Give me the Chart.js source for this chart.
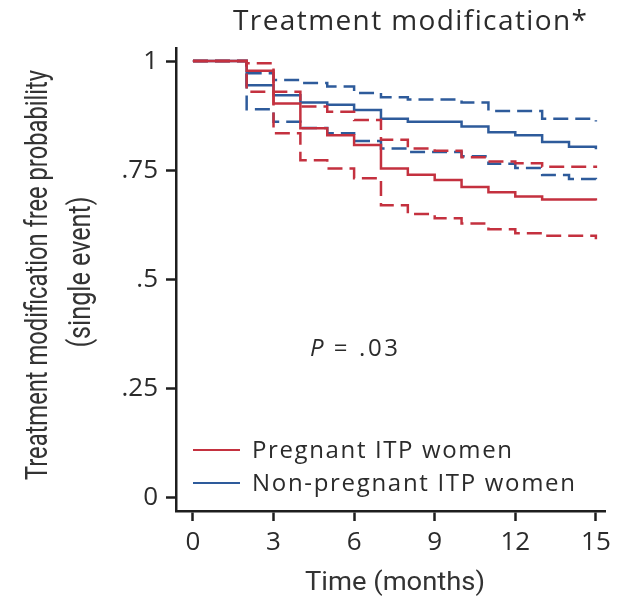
<!DOCTYPE html>
<html>
<head>
<meta charset="utf-8">
<script src="https://cdn.jsdelivr.net/npm/chart.js@4.4.0/dist/chart.umd.min.js"></script>
<style>
  html, body { margin: 0; padding: 0; background: #fff; }
  #wrap { width: 617px; height: 596px; }
</style>
</head>
<body>
<div id="wrap"><canvas id="kmChart" width="617" height="596"></canvas></div>
<script>
// Step times (months) shared by every curve
const months = [0, 2, 3, 4, 5, 6, 7, 8, 9, 10, 11, 12, 13, 14, 15];

// Pregnant ITP women: estimate and 95% CI
const pregnantEst   = [1, 0.978, 0.903, 0.846, 0.830, 0.808, 0.754, 0.740, 0.728, 0.712, 0.700, 0.690, 0.683, 0.683, 0.681];
const pregnantUpper = [1, 0.995, 0.930, 0.896, 0.884, 0.865, 0.820, 0.800, 0.795, 0.780, 0.770, 0.766, 0.758, 0.758, 0.755];
const pregnantLower = [1, 0.930, 0.835, 0.773, 0.754, 0.732, 0.670, 0.650, 0.640, 0.628, 0.615, 0.606, 0.600, 0.600, 0.592];

// Non-pregnant ITP women: estimate and 95% CI
const nonPregEst   = [1, 0.945, 0.922, 0.905, 0.900, 0.888, 0.868, 0.861, 0.861, 0.850, 0.837, 0.830, 0.815, 0.804, 0.798];
const nonPregUpper = [1, 0.972, 0.957, 0.950, 0.942, 0.927, 0.917, 0.912, 0.912, 0.905, 0.886, 0.886, 0.868, 0.868, 0.862];
const nonPregLower = [1, 0.890, 0.861, 0.847, 0.835, 0.817, 0.800, 0.792, 0.792, 0.782, 0.765, 0.755, 0.739, 0.730, 0.720];

const xTicks = [0, 3, 6, 9, 12, 15];
const yTicks = [0, 0.25, 0.5, 0.75, 1];
const yTickLabels = ["0", ".25", ".5", ".75", "1"];

const RED = "#c4313f";
const BLUE = "#2e5b9b";
const INK = "#2b2b2b";
const FONT = "'Open Sans'";

function toPoints(values) {
  return months.map((m, i) => ({ x: m, y: values[i] }));
}

function curve(label, values, color, dashed) {
  return {
    label: label,
    data: toPoints(values),
    borderColor: color,
    borderWidth: 2.5,
    borderDash: dashed ? [15, 7] : [],
    stepped: "before",
    pointRadius: 0,
    fill: false,
  };
}

// draw text with extra tracking so it spans a given width
function fitSpaced(ctx, text, x, y, width, align) {
  const chars = [...text];
  const widths = chars.map((ch) => ctx.measureText(ch).width);
  const natural = widths.reduce((a, b) => a + b, 0);
  const gap = (width - natural) / (chars.length - 1);
  let cx = align === "center" ? x - width / 2 : x;
  ctx.textAlign = "left";
  chars.forEach((ch, i) => {
    ctx.fillText(ch, cx, y);
    cx += widths[i] + gap;
  });
}

// draw condensed text squeezed to a given width
function fitSqueezed(ctx, text, x, y, width, rotate) {
  ctx.save();
  ctx.translate(x, y);
  if (rotate) ctx.rotate(-Math.PI / 2);
  ctx.scale(width / ctx.measureText(text).width, 1);
  ctx.textAlign = "center";
  ctx.fillText(text, 0, 0);
  ctx.restore();
}

const annotations = {
  id: "annotations",
  afterDraw(chart) {
    const ctx = chart.ctx;
    ctx.save();
    ctx.fillStyle = INK;
    ctx.textBaseline = "alphabetic";

    // title
    ctx.font = "28px " + FONT;
    fitSpaced(ctx, "Treatment modification*", 410, 30, 354, "center");

    // axis titles
    ctx.fillStyle = "#333";
    ctx.font = "31px Roboto";
    fitSqueezed(ctx, "Treatment modification free probability", 47, 275, 410, true);
    fitSqueezed(ctx, "(single event)", 90, 272, 151, true);
    ctx.font = "26px Roboto";
    fitSqueezed(ctx, "Time (months)", 395, 590, 180, false);

    // p-value
    ctx.fillStyle = INK;
    ctx.font = "italic 24px " + FONT;
    ctx.fillText("P", 310, 356);
    ctx.font = "24px " + FONT;
    fitSpaced(ctx, " = .03", 325, 356, 73, "left");

    // legend
    const legend = [
      { text: "Pregnant ITP women", color: RED, y: 450, w: 260 },
      { text: "Non-pregnant ITP women", color: BLUE, y: 483, w: 323 },
    ];
    legend.forEach((item) => {
      ctx.strokeStyle = item.color;
      ctx.lineWidth = 2;
      ctx.beginPath();
      ctx.moveTo(193, item.y);
      ctx.lineTo(240, item.y);
      ctx.stroke();
      ctx.fillStyle = INK;
      ctx.font = "24px " + FONT;
      fitSpaced(ctx, item.text, 252, item.y + 8, item.w, "left");
    });
    ctx.restore();
  },
};

const axisStyle = {
  border: { display: true, color: "#1e1e1e", width: 2.5 },
  grid: {
    drawOnChartArea: false,
    drawTicks: true,
    tickLength: 10,
    tickWidth: 2.5,
    tickColor: "#1e1e1e",
  },
};

const chart = new Chart(document.getElementById("kmChart"), {
  type: "line",
  data: {
    datasets: [
      curve("Pregnant ITP women", pregnantEst, RED, false),
      curve("Pregnant upper CI", pregnantUpper, RED, true),
      curve("Pregnant lower CI", pregnantLower, RED, true),
      curve("Non-pregnant ITP women", nonPregEst, BLUE, false),
      curve("Non-pregnant upper CI", nonPregUpper, BLUE, true),
      curve("Non-pregnant lower CI", nonPregLower, BLUE, true),
    ],
  },
  options: {
    responsive: false,
    animation: false,
    layout: { padding: { top: 48, right: 11, left: 0, bottom: 0 } },
    plugins: {
      legend: { display: false },
      tooltip: { enabled: false },
      title: { display: false },
    },
    scales: {
      x: {
        type: "linear",
        min: -0.63,
        max: 15.37,
        ...axisStyle,
        afterBuildTicks: (scale) => {
          scale.ticks = xTicks.map((v) => ({ value: v }));
        },
        afterFit: (scale) => {
          scale.height = 85;
        },
        ticks: {
          color: INK,
          padding: 6,
          maxRotation: 0,
          font: { family: FONT, size: 26 },
        },
      },
      y: {
        type: "linear",
        min: -0.03,
        max: 1.03,
        ...axisStyle,
        afterBuildTicks: (scale) => {
          scale.ticks = yTicks.map((v) => ({ value: v }));
        },
        afterFit: (scale) => {
          scale.width = 176;
        },
        ticks: {
          color: INK,
          padding: 8,
          font: { family: FONT, size: 26 },
          callback: (value) => yTickLabels[yTicks.indexOf(value)],
        },
      },
    },
  },
  plugins: [annotations],
});
</script>
</body>
</html>
